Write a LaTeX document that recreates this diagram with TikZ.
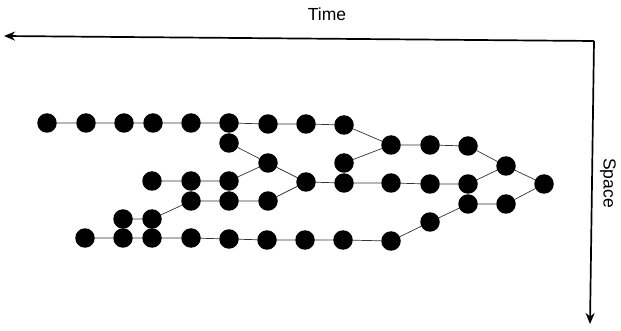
\documentclass[tikz,border=0pt]{standalone}
\usepackage{fontspec}
\setmainfont{Liberation Sans}
\usetikzlibrary{arrows.meta}
\begin{document}
\begin{tikzpicture}[x=1pt,y=-1pt,
  dot/.style={circle,fill=black,inner sep=0pt,minimum size=19.5pt},
  link/.style={draw=black!80,line width=0.7pt},
  axis/.style={draw=black,line width=1.7pt,-{Stealth[length=11pt,width=9pt]}},
  lab/.style={font=\fontsize{17.5}{20}\selectfont}]
\useasboundingbox (0,0) rectangle (621,331);
% nodes
\foreach \n/\x/\y in {a1/47/123,a2/86/123,a3/124/123,a4/153/123,a5/191/123,a6/229/123,a7/268/124,a8/306/124,a9/344/125,
  b6/229/143,c7/268/163,c9/344/163,
  d10/391/145,d11/430/145,d12/468/146,d13/506/166,d14/544/184,
  e4/152/181,e5/191/181,e6/229/181,e8/306/182,e9/344/183,e10/391/183,e11/430/184,e12/468/184,
  f5/191/201,f6/229/201,f7/268/201,f12/468/204,f13/506/204,
  g3/123/219,g4/152/219,g11/430/222,
  h2/85/238,h3/123/238,h4/152/238,h5/191/238,h6/229/239,h7/267/240,h8/305/240,h9/343/240,h10/391/241}
  {\node[dot] (\n) at (\x,\y) {};}
% connectors
\path[link] (a1)--(a2) (a2)--(a3) (a3)--(a4) (a4)--(a5) (a5)--(a6) (a6)--(a7) (a7)--(a8) (a8)--(a9)
  (b6)--(c7) (c7)--(e6) (c7)--(e8) (e8)--(f7) (e8)--(e9)
  (a9)--(d10) (c9)--(d10) (d10)--(d11) (d11)--(d12) (d12)--(d13) (d13)--(d14)
  (e9)--(e10) (e10)--(e11) (e11)--(e12) (e12)--(d13)
  (f12)--(f13) (f13)--(d14)
  (h10)--(g11) (g11)--(f12)
  (e4)--(e5) (e5)--(e6) (f5)--(f6) (f6)--(f7)
  (g3)--(g4) (g4)--(f5)
  (h2)--(h3) (h3)--(h4) (h4)--(h5) (h5)--(h6) (h6)--(h7) (h7)--(h8) (h8)--(h9) (h9)--(h10);
% axes
\coordinate (corner) at (594,41);
\coordinate (tleft) at (4,36);
\coordinate (sbottom) at (590,324);
\draw[axis] (corner) -- (tleft);
\draw[axis] (corner) -- (sbottom);
\node[lab] (time) at (327,14) {Time};
\node[lab,rotate=-90] (space) at (608,183) {Space};
\end{tikzpicture}
\end{document}
